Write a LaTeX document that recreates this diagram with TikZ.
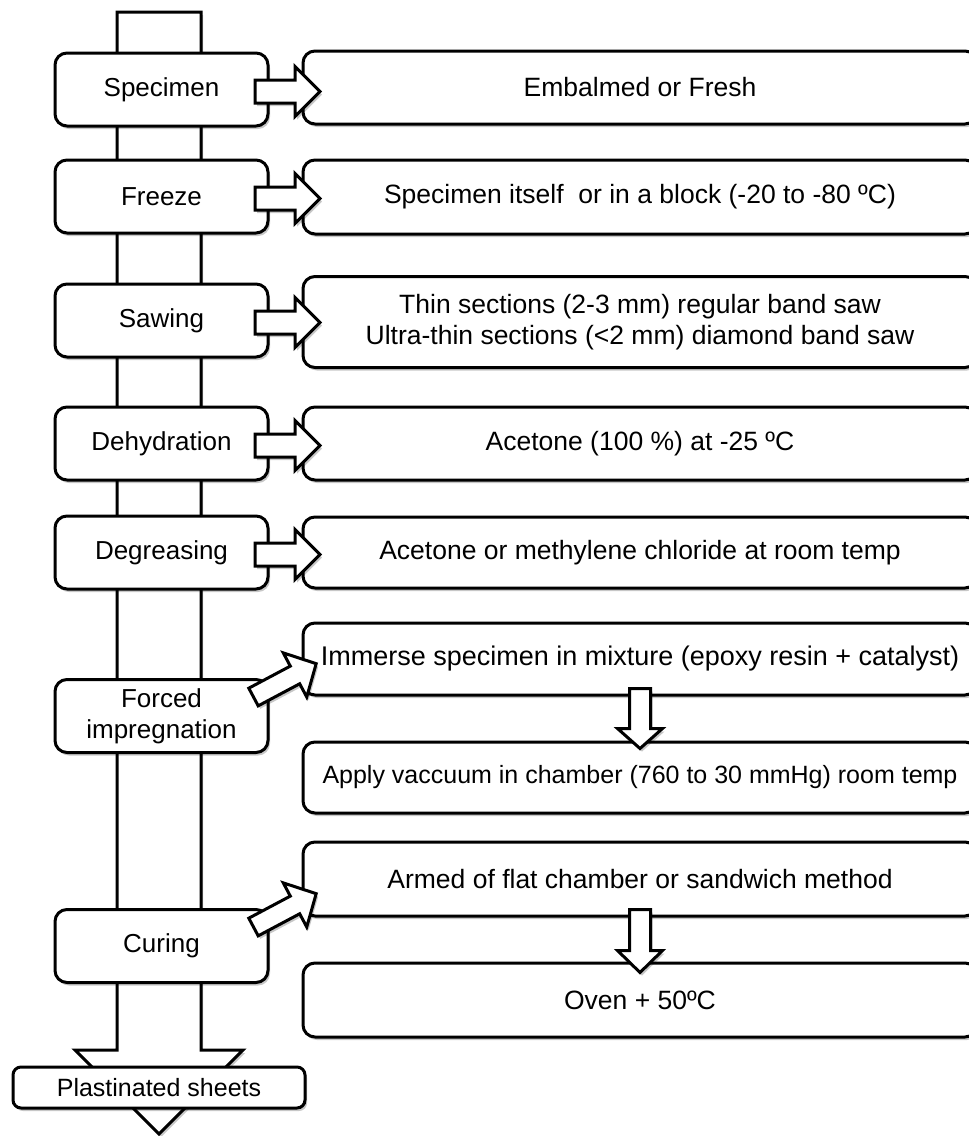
\documentclass[tikz,border=0pt]{standalone}
\usepackage{fontspec}
\setmainfont{Liberation Sans}
\usetikzlibrary{calc,shadows}
\tikzset{
  shd/.style={drop shadow={shadow xshift=2pt, shadow yshift=-3pt, opacity=0.22, fill=black}},
  box/.style={draw=black, line width=3pt, fill=white, rounded corners=12pt, inner sep=0pt, align=center, shd},
  lbox/.style={box, minimum width=213pt, minimum height=73pt, font=\fontsize{26}{31}\selectfont},
  rbox/.style={box, minimum width=674pt, font=\fontsize{26.5}{31}\selectfont},
  pbox/.style={box, rounded corners=8pt, minimum width=292pt, minimum height=41pt, font=\fontsize{25}{30}\selectfont},
  arrowshape/.style={draw=black, line width=3pt, fill=white, line join=miter, shd},
  pics/barrow/.style n args={4}{code={
    \path[arrowshape] (0,-#4) -- ({#1-#2},-#4) -- ({#1-#2},-#3) -- (#1,0) -- ({#1-#2},#3) -- ({#1-#2},#4) -- (0,#4) -- cycle;
  }}
}
\begin{document}
\begin{tikzpicture}[x=1pt,y=-1pt]
\useasboundingbox (0,0) rectangle (969,1136);
\clip (0,0) rectangle (969,1136);
% spine
\coordinate (spinetop) at (159,12);
\path[arrowshape] (117,12) -- (201,12) -- (201,1050) -- (243,1050) -- (159,1134) -- (75,1050) -- (117,1050) -- cycle;
% left boxes
\node[lbox] (L1) at (161.5,89.5) {Specimen};
\node[lbox] (L2) at (161.5,196.5) {Freeze};
\node[lbox] (L3) at (161.5,320.5) {Sawing};
\node[lbox] (L4) at (161.5,443.5) {Dehydration};
\node[lbox] (L5) at (161.5,552.5) {Degreasing};
\node[lbox] (L6) at (161.5,716) {Forced\\impregnation};
\node[lbox] (L7) at (161.5,946) {Curing};
% right boxes
\node[rbox, minimum height=73pt] (R1) at (640,87.5) {Embalmed or Fresh};
\node[rbox, minimum height=74pt] (R2) at (640,197) {Specimen itself~ or in a block (-20 to -80 ºC)};
\node[rbox, minimum height=91pt] (R3) at (640,322) {Thin sections (2-3 mm) regular band saw\\Ultra-thin sections (<2 mm) diamond band saw};
\node[rbox, minimum height=73pt] (R4) at (640,443.5) {Acetone (100 \%) at -25 ºC};
\node[rbox, minimum height=71pt] (R5) at (640,552.5) {Acetone or methylene chloride at room temp};
\node[rbox, minimum height=72pt, font=\fontsize{27}{31}\selectfont] (R6a) at (640,659) {Immerse specimen in mixture (epoxy resin + catalyst)};
\node[rbox, minimum height=71pt, font=\fontsize{25}{30}\selectfont] (R6b) at (640,777.5) {Apply vaccuum in chamber (760 to 30 mmHg) room temp};
\node[rbox, minimum height=74pt] (R7a) at (640,879) {Armed of flat chamber or sandwich method};
\node[rbox, minimum height=74pt] (R7b) at (640,1000) {Oven + 50ºC};
% horizontal block arrows
\foreach \n in {1,...,5}{
  \pic at ($(L\n.east)+(-14.5,2)$) {barrow={65}{25}{25}{11.5}};
}
% diagonal block arrows
\pic[rotate=28] at ($(L6.east)+(-16,-19)$) {barrow={71}{24}{25}{10}};
\pic[rotate=28] at ($(L7.east)+(-16,-19)$) {barrow={71}{24}{25}{10}};
% vertical block arrows
\pic[rotate=-90] at ($(R6a.south)+(0,-8)$) {barrow={60}{20}{22.5}{10.5}};
\pic[rotate=-90] at ($(R7a.south)+(0,-8)$) {barrow={63}{22}{22.5}{10.5}};
% final box
\node[pbox] (P) at (159,1087.5) {Plastinated sheets};
\end{tikzpicture}
\end{document}
